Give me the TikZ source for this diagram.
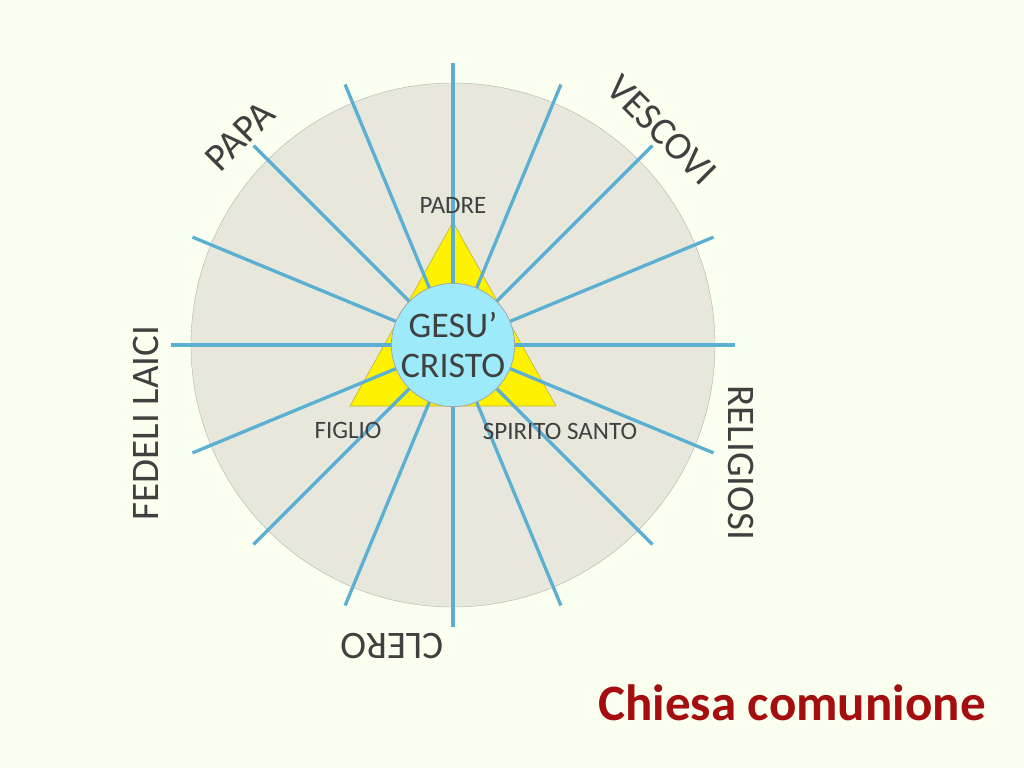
\documentclass[tikz,border=0pt]{standalone}
\usepackage{fontspec}
\setmainfont{Carlito}
\definecolor{bgpaper}{HTML}{FBFFEF}
\definecolor{discgray}{HTML}{E7E7DC}
\definecolor{raycol}{HTML}{5BAFD2}
\definecolor{coreblue}{HTML}{9DEBFA}
\definecolor{labgray}{HTML}{404040}
\definecolor{titlered}{HTML}{A50E0E}
\tikzset{
  ray/.style={draw=raycol, line width=3.3pt},
  outerlab/.style={text=labgray, inner sep=0pt, font=\fontsize{39}{42}\selectfont},
  personlab/.style={text=labgray, inner sep=0pt, font=\fontsize{25}{27}\selectfont}
}
\begin{document}
\begin{tikzpicture}[x=1pt,y=-1pt]
\fill[bgpaper] (0,0) rectangle (1024,768);
% disc and rays
\coordinate (centre) at (453,345);
\draw[fill=discgray, draw=gray!60] (centre) circle (262pt);
\fill[yellow, draw=yellow!70!black, line width=0.6pt] (453,222) -- (350,406) -- (556,406) -- cycle;
\foreach \a in {0,22.5,...,337.5}
  \draw[ray] (centre) -- ++(\a:282pt);
\node[circle, minimum size=120pt, inner sep=0pt, fill=coreblue, draw=gray!70, line width=0.8pt,
  align=center, text=labgray, font=\fontsize{36}{40}\selectfont] (core) at (centre) {GESU’\\CRISTO};
% labels
\node[personlab] (padre) at (453,205) {PADRE};
\node[personlab] (figlio) at (348,430) {FIGLIO};
\node[personlab] (spirito) at (560,431) {SPIRITO SANTO};
\node[outerlab, rotate=45] (papa) at (240,136) {PAPA};
\node[outerlab, rotate=-45] (vescovi) at (662,130) {VESCOVI};
\node[outerlab, rotate=90] (fedeli) at (146,423) {FEDELI LAICI};
\node[outerlab, rotate=-90] (religiosi) at (741,463) {RELIGIOSI};
\node[outerlab, rotate=180] (clero) at (392,646) {CLERO};
\node[text=titlered, font=\bfseries\fontsize{51}{54}\selectfont] (title) at (792,703) {Chiesa comunione};
\end{tikzpicture}
\end{document}
